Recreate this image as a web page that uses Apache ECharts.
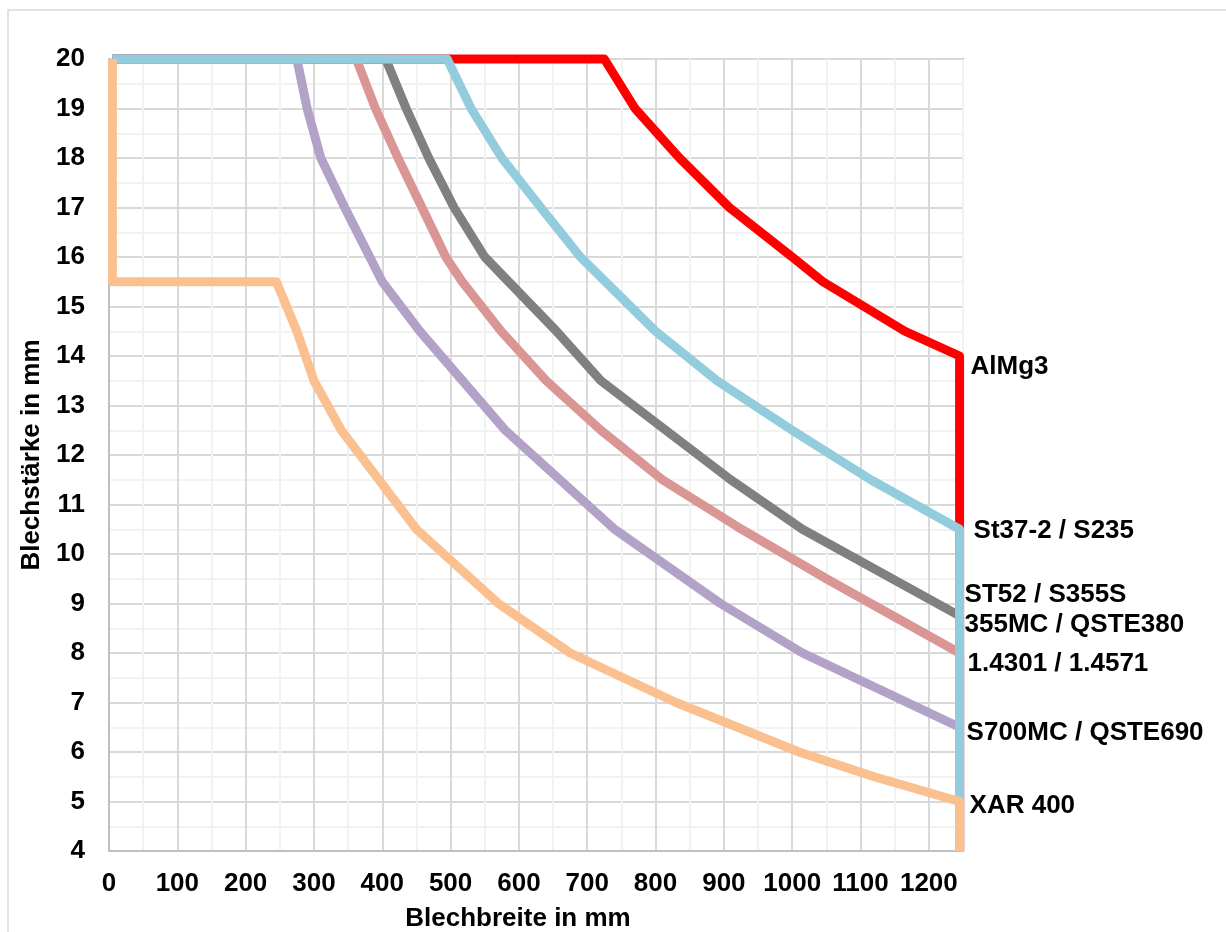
<!DOCTYPE html>
<html>
<head>
<meta charset="utf-8">
<script src="https://cdn.jsdelivr.net/npm/echarts@6/dist/echarts.min.js"></script>
<style>
  html, body { margin: 0; padding: 0; background: #fff; }
  #main { width: 1226px; height: 932px; }
</style>
</head>
<body>
<div id="main"></div>
<script>
// Blechbreite (x) / Blechstärke (y) je Werkstoff
let alMg3X = [5, 725, 770, 835, 908, 1000, 1045, 1165, 1245, 1245];
let alMg3Y = [20, 20, 19, 18, 17, 16, 15.5, 14.5, 14, 4];

let st37X = [5, 495, 530, 575, 632, 690, 800, 890, 1000, 1115, 1245, 1245];
let st37Y = [20, 20, 19, 18, 17, 16, 14.5, 13.5, 12.5, 11.5, 10.5, 4];

let st52X = [5, 405, 435, 468, 505, 550, 585, 620, 655, 720, 815, 910, 1015, 1245, 1245];
let st52Y = [20, 20, 19, 18, 17, 16, 15.5, 15, 14.5, 13.5, 12.5, 11.5, 10.5, 8.75, 4];

let edelstahlX = [5, 362, 390, 423, 458, 493, 517, 574, 640, 720, 810, 920, 1050, 1245, 1245];
let edelstahlY = [20, 20, 19, 18, 17, 16, 15.5, 14.5, 13.5, 12.5, 11.5, 10.55, 9.5, 8, 4];

let s700X = [5, 275, 290, 310, 345, 400, 455, 580, 660, 740, 895, 1015, 1245, 1245];
let s700Y = [20, 20, 19, 18, 17, 15.5, 14.5, 12.5, 11.5, 10.5, 9, 8, 6.5, 4];

let xarX = [5, 5, 245, 275, 300, 340, 395, 450, 570, 675, 830, 1010, 1120, 1245, 1245];
let xarY = [20, 15.5, 15.5, 14.5, 13.5, 12.5, 11.5, 10.5, 9, 8, 7, 6, 5.5, 5, 4];

let labelOffsetY = [11, 2, -6, 11, 6, 4];

(function() {
    let font = "'Liberation Sans', Arial, sans-serif";
    let chart = echarts.init(document.getElementById('main'));

    function makeSeries(name, xs, ys, color, labelText, dy, dist) {
        let pts = xs.map(function(x, i) { return [x, ys[i]]; });
        let labelPt = pts[pts.length - 2];
        return {
            name: name,
            type: 'line',
            data: pts,
            symbol: 'none',
            clip: false,
            lineStyle: { color: color, width: 9, join: 'round', cap: 'butt' },
            markPoint: {
                symbol: 'circle',
                symbolSize: 0,
                silent: true,
                data: [{
                    coord: labelPt,
                    label: {
                        show: true,
                        position: 'right',
                        distance: dist,
                        offset: [0, dy],
                        formatter: labelText,
                        color: '#000',
                        fontFamily: font,
                        fontWeight: 'bold',
                        fontSize: 26,
                        lineHeight: 30
                    }
                }]
            }
        };
    }

    let option = {
        animation: false,
        backgroundColor: '#fff',
        graphic: [{
            type: 'rect',
            shape: { x: 8, y: 10, width: 1240, height: 940 },
            style: { fill: 'none', stroke: '#d9d9d9', lineWidth: 1.5 },
            silent: true
        }],
        grid: {
            left: 109, right: 263, top: 59, bottom: 81,
            outerBoundsMode: 'none',
            containLabel: false,
            show: true, borderColor: '#595959', borderWidth: 1.5
        },
        xAxis: {
            type: 'value', min: 0, max: 1250, interval: 50,
            name: 'Blechbreite in mm',
            nameLocation: 'middle',
            nameGap: 55,
            nameTextStyle: { color: '#000', fontFamily: font, fontWeight: 'bold', fontSize: 26, padding: [0, 36, 0, 0] },
            axisLine: { show: true, lineStyle: { color: '#bfbfbf', width: 2 } },
            axisTick: { show: false },
            axisLabel: {
                color: '#000', fontFamily: font, fontWeight: 'bold', fontSize: 26, margin: 20,
                showMaxLabel: false,
                formatter: function(v) { return v % 100 === 0 ? v : ''; }
            },
            splitLine: { show: true, lineStyle: { color: ['#d9d9d9', '#f2f2f2'], width: 2 } }
        },
        yAxis: {
            type: 'value', min: 4, max: 20, interval: 0.5,
            name: 'Blechstärke in mm',
            nameLocation: 'middle',
            nameGap: 60,
            nameTextStyle: { color: '#000', fontFamily: font, fontWeight: 'bold', fontSize: 26 },
            axisLine: { show: true, lineStyle: { color: '#bfbfbf', width: 2 } },
            axisTick: { show: false },
            axisLabel: {
                color: '#000', fontFamily: font, fontWeight: 'bold', fontSize: 26, margin: 24,
                formatter: function(v) { return v % 1 === 0 ? v : ''; }
            },
            splitLine: { show: true, lineStyle: { color: ['#d9d9d9', '#f2f2f2'], width: 2 } }
        },
        series: [
            makeSeries('AlMg3', alMg3X, alMg3Y, '#ff0000', 'AlMg3', labelOffsetY[0], 11),
            makeSeries('ST52 / S355S', st52X, st52Y, '#808080', 'ST52 / S355S\n355MC / QSTE380', labelOffsetY[2], 5),
            makeSeries('1.4301 / 1.4571', edelstahlX, edelstahlY, '#d99694', '1.4301 / 1.4571', labelOffsetY[3], 8),
            makeSeries('S700MC / QSTE690', s700X, s700Y, '#b3a2c7', 'S700MC / QSTE690', labelOffsetY[4], 7),
            makeSeries('St37-2 / S235', st37X, st37Y, '#93cddd', 'St37-2 / S235', labelOffsetY[1], 14),
            makeSeries('XAR 400', xarX, xarY, '#fac090', 'XAR 400', labelOffsetY[5], 10)
        ]
    };
    chart.setOption(option);
})();
</script>
</body>
</html>
